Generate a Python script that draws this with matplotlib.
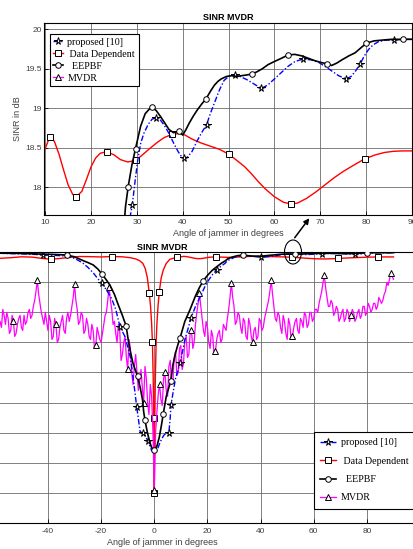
import matplotlib
matplotlib.use("Agg")
import matplotlib.pyplot as plt
import numpy as np
from matplotlib.lines import Line2D
from matplotlib.patches import Ellipse, FancyArrowPatch

# ---------------- datos ----------------
# proposed [10]  (parte baja -90..27 y parte alta 27..90)
prop_x_lo = [-90, -80, -70, -60, -50, -45, -41.8, -38, -34, -30, -27, -25, -23, -21.5, -19.8, -18, -16,
             -14.5, -12.9, -11, -10, -9, -8.5, -7.5, -6.6, -5.3, -4.4, -3.5, -2.3, -1, 0, 1, 2.3, 3.5,
             4.6, 5.5, 6, 6.3, 7, 8, 9.7, 11.5, 13.8, 15.5, 17.4, 19, 20.5, 22, 23.5, 25, 26.6]
prop_y_lo = [19.85, 19.9, 19.8, 19.7, 19.5, 19.3, 19.1, 19.0, 18.8, 18.0, 16.5, 15.0, 13.2, 11.5, 9.7, 7.5,
             4.5, 1.0, -4.8, -8.1, -11.5, -15, -18.1, -25, -31.5, -39.8, -40, -41, -42.9, -46, -46.5,
             -46, -43, -41, -40, -40, -35, -30.7, -27, -22, -17, -9.2, -2, 2, 5.4, 8.5, 10.8, 12.7,
             14.1, 15.3, 16.3]
prop_x_hi = [27.5, 28.5, 29, 29.6, 30.2, 30.8, 31.5, 32.5, 33.3, 34.1, 35, 36, 37, 38, 39, 39.7, 40.3,
             41, 42, 43, 44, 45.2, 46, 47, 48, 49, 50.2, 51.5, 52.5, 54, 55.7, 57.1, 58.5, 60, 61.5,
             63, 64.5, 66.2, 68, 69.6, 71, 72.5, 74, 75.6, 76.7, 77.7, 78.7, 79.6, 80.5, 81.5, 82.7,
             84.3, 86, 88, 90]
prop_y_hi = [17.2, 17.62, 17.78, 18.08, 18.35, 18.55, 18.68, 18.8, 18.86, 18.88, 18.86, 18.78, 18.68,
             18.56, 18.45, 18.39, 18.37, 18.38, 18.45, 18.57, 18.68, 18.79, 18.93, 19.08, 19.23, 19.35,
             19.41, 19.42, 19.40, 19.36, 19.30, 19.25, 19.29, 19.37, 19.45, 19.53, 19.59, 19.62, 19.61,
             19.58, 19.53, 19.47, 19.41, 19.37, 19.40, 19.47, 19.56, 19.66, 19.74, 19.80, 19.84, 19.86,
             19.86, 19.87, 19.87]

# Data Dependent
dd_x_lo = [-90, -86, -82, -78, -74, -70, -66, -62, -58, -54, -50, -46, -42, -39, -36, -32, -28, -24, -20,
           -15.8, -12, -9, -7, -5.5, -4.3, -3.4, -2.6, -1.9, -1.4, -1, -0.7, -0.4, -0.2, 0, 0.2, 0.4,
           0.7, 1, 1.4, 1.9, 2.6, 3.4, 4.5, 5.9, 8.4]
dd_y_lo = [18.4, 18.2, 18.0, 18.15, 18.45, 18.6, 18.45, 18.15, 18.0, 18.2, 18.5, 18.4, 17.95, 17.7, 17.9,
           18.3, 18.6, 18.55, 18.45, 18.6, 18.5, 18.2, 17.8, 17.2, 16.3, 14.6, 11.5, 6.5, 2.0, -3.7,
           -9.8, -22, -35, -60, -35, -22, -9.8, -3.7, 2.0, 6.9, 11.5, 14.1, 16.3, 17.7, 18.3]
dd_x_hi = [10, 11, 12, 13, 14, 15, 16, 16.8, 18, 19, 20, 21, 22, 23.4, 25, 26.4, 28, 29.7, 31, 32.8, 34.5,
           36, 37.7, 39.3, 40.5, 42, 44, 46, 48, 50, 52, 53.5, 55, 56.5, 58, 60, 62, 63.6, 65, 67, 69,
           71, 73, 75, 77, 79.7, 82, 84, 86, 88, 90]
dd_y_hi = [18.49, 18.64, 18.58, 18.42, 18.22, 18.03, 17.91, 17.88, 17.95, 18.1, 18.26, 18.37, 18.43,
           18.45, 18.41, 18.35, 18.32, 18.34, 18.4, 18.49, 18.57, 18.63, 18.67, 18.68, 18.66, 18.61,
           18.56, 18.52, 18.48, 18.42, 18.33, 18.26, 18.17, 18.07, 17.98, 17.88, 17.81, 17.79, 17.8,
           17.86, 17.94, 18.03, 18.12, 18.2, 18.27, 18.36, 18.41, 18.44, 18.455, 18.46, 18.46]

# EEPBF
ee_x_lo = [-90, -80, -70, -60, -50, -42, -38, -33, -30, -28.5, -26.7, -25, -23, -21.3, -19.6, -18.2,
           -16.7, -15, -13.5, -12, -10.6, -9.8, -9, -8, -7, -6.3, -5.3, -4.4, -4, -3.5, -2.7, -1.9,
           -1, 0, 1, 1.9, 2.7, 3.4, 4.5, 5.3, 6.2, 7, 8, 8.8, 9.7, 11.5, 13.4, 15.5, 17, 18.4, 20,
           21.8, 23.5, 25.3]
ee_y_lo = [19.85, 19.9, 19.85, 19.75, 19.6, 19.4, 19.3, 19.1, 18.5, 17.9, 17.2, 16.6, 15.8, 14.5, 12.7,
           11.0, 9.1, 6.0, 2.4, -1.0, -4.5, -9.2, -13, -17, -19.5, -21.2, -25, -29.2, -33, -35.9,
           -39.5, -42.6, -45, -45.9, -44.5, -41.5, -37.5, -33.7, -28, -25.5, -22.9, -17.5, -13.5,
           -11, -8.5, -3, 0.8, 5.5, 8.3, 10.5, 12.3, 14.0, 15.2, 16.4]
ee_x_hi = [26.8, 27.5, 28.1, 28.9, 29.7, 30.8, 31.8, 33.2, 34.2, 35.2, 36.1, 37, 38, 39.2, 40, 40.7,
           41.4, 42.3, 43.2, 44.1, 45.1, 46, 46.9, 47.7, 48.4, 49.5, 50.6, 51.7, 52.8, 54, 55, 56.2,
           57.4, 58.6, 60, 61.5, 62.9, 64.4, 66, 67.4, 68.8, 70, 71.4, 72.5, 73.6, 74.7, 76.2, 77.6,
           78.8, 80, 81.7, 83.5, 85.5, 88, 90]
ee_y_hi = [17.2, 17.75, 18.01, 18.28, 18.49, 18.77, 18.93, 19.02, 18.97, 18.89, 18.81, 18.73, 18.69,
           18.71, 18.66, 18.73, 18.81, 18.9, 18.98, 19.05, 19.12, 19.21, 19.29, 19.34, 19.37, 19.40,
           19.41, 19.40, 19.41, 19.42, 19.43, 19.46, 19.50, 19.55, 19.59, 19.63, 19.67, 19.68, 19.66,
           19.63, 19.60, 19.58, 19.56, 19.54, 19.57, 19.61, 19.66, 19.70, 19.76, 19.82, 19.85, 19.86,
           19.87, 19.87, 19.87]

# MVDR: valores en grados enteros (-90..90) y en medios grados (-89.5..89.5)
mv_y_int = [-2, 1, -3, 0, -4, -1, -5, -2, -4, 0, -3, -1, -4, -2, -5, 0, -3, -1, -4, 1, -2, -4, 0, -3,
            -1, -5, -2, 0, -3, 1, -2, 0,
            -3, 1, -4, -2, -6, -3, -7, -2, -5, -1, -3, 1, -1, 4, 10.8, 3, -2, 0, -6, -3, -8, -4, -9,
            -3, -6, -2, -3, 2,
            9.3, 1, -3, -1, -6, -4, -9, -6, -11, -7, -10, -4, 0, 8.5, 1, -3, -10, -6, -14, -8, -19,
            -12, -24, -14, -26, -19, -30, -22, -34, -28,
            -59,
            -33, -24, -31, -20, -28, -16, -23, -13, -20, -11, -17, -8, -14, -6, -10, 0, 6.3, -2, -8,
            -5, -12, -8, -13, -7, -10, -4, -6, 1, 9.9, 2,
            -3, -1, -7, -3, -9, -4, -10, -5, -8, -3, -5, 0, 4, 10.8, 2, -3, -1, -7, -3, -9, -4, -8,
            -3, -6, -2, -5, -1, -4, 0, -2,
            1, 3, 7, 12.4, 5, 2, 3, 0, 1, -2, 1, -2, 0, -1, 0, -2, 1, -1, 2, 0, 2, 1, 3, 2, 4, 4, 7,
            9, 13, 11]
mv_y_half = [-4, -1, -5, -2, 0, -3, 1, -5, -1, -2, 0, -5, 0, -1, -3, -4, 0, -5, -2, -3, 0, -1, -5, 1,
             -4, 0, -4, -2, -1, -4, 1, -5,
             -5, -1, 0, -7, -1, -8, -4, -1, -6, -4, 0, -2, 2, 7, 6, 0, -4, -3, -1, -9, -2, -10, -5,
             -1, -7, 0, -1, 5,
             4, -4, 0, -7, -2, -8, -4, -12, -5, -9, -7, -1, 4, 4, -4, -7, -4, -16, -10, -15, -9, -20,
             -18, -20, -23, -25, -18, -30, -24, -40,
             -40,
             -27, -29, -22, -26, -18, -24, -15, -21, -12, -19, -9, -15, -7, -12, -4, 3, 2, -6, -3,
             -10, -6, -14, -9, -6, -9, -5, -2, 5, 5, -4,
             0, -5, -2, -8, -2, -8, -6, -9, -2, -6, -2, 2, 7, 6, -2, 0, -5, -1, -7, -2, -9, -5, -2,
             -7, -3, 0, -5, 0, -3, 1,
             0, 5, 10, 8, 2, 4, -1, 2, -3, 0, -3, 1, -3, 1, -3, 0, -2, 2, -1, 3, 0, 3, 1, 5, 3, 6, 10,
             11, 12]

# posiciones de los marcadores (grados)
prop_mk_top = [29, 34.1, 40.3, 45.2, 51.5, 57.1, 66.2, 75.6, 78.7, 86]
dd_mk_top = [11, 16.8, 23.4, 29.7, 37.7, 50, 63.6, 79.7]
ee_mk_top = [28.1, 29.7, 33.2, 39.2, 45.1, 55, 62.9, 71.4, 80, 88]
prop_mk_bot = [-41.8, -19.8, -12.9, -6.6, -4.4, -2.3, 5.5, 6.3, 9.7, 13.8, 23.5, 40.3, 63, 75.6]
dd_mk_bot = [-39, -15.8, -1.9, -0.7, -0.2, 0, 1.9, 8.4, 23.4, 52, 69, 84]
ee_mk_bot = [-33, -19.6, -10.6, -6.3, -3.5, 0, 3.4, 6.2, 9.7, 18.4, 33.2, 52.8, 80]
mv_mk_bot = [-53, -44, -37, -30, -22, -17, -10, -4, 0, 2, 4, 14, 17, 23, 29, 37, 44, 52, 64, 74, 89]

labels = ["proposed [10]", " Data Dependent", "  EEPBF", "MVDR"]
top_xticks = [10, 20, 30, 40, 50, 60, 70, 80, 90]
top_yticks = [18, 18.5, 19, 19.5, 20]
top_yticklabels = ["18", "18.5", "19", "19.5", "20"]
bot_xticks = [-100, -80, -60, -40, -20, 0, 20, 40, 60, 80, 100]
bot_xticklabels = ["-100", "-80", "-60", "-40", "-20", "0", "20", "40", "60", "80", "100"]
bot_yticks = [-70, -60, -50, -40, -30, -20, -10, 0, 10, 20]

# series completas
prop_x = np.array(prop_x_lo + prop_x_hi)
prop_y = np.array(prop_y_lo + prop_y_hi)
dd_x = np.array(dd_x_lo + dd_x_hi)
dd_y = np.array(dd_y_lo + dd_y_hi)
ee_x = np.array(ee_x_lo + ee_x_hi)
ee_y = np.array(ee_y_lo + ee_y_hi)
mv_x = np.arange(-90, 90.25, 0.5)
mv_y = np.empty(len(mv_x))
mv_y[0::2] = mv_y_int
mv_y[1::2] = mv_y_half


def idx(xs, marks):
    # indice del punto mas cercano a cada marcador
    return [int(np.abs(xs - m).argmin()) for m in marks]


sans = "Liberation Sans"
serif = "Liberation Serif"
W, H = 414.0, 549.0


def box(l, t, r, b):
    # caja en pixeles -> fraccion de figura
    return [l / W, 1 - b / H, (r - l) / W, (b - t) / H]


fig = plt.figure(figsize=(4.14, 5.49), dpi=100)
ax1 = fig.add_axes(box(44.3, 22.7, 412, 215))
ax2 = fig.add_axes(box(-111.5, 252.3, 436, 522.7))

mk = dict(mfc="white", mec="k", mew=0.7)
for ax, top in ((ax1, True), (ax2, False)):
    ax.plot(dd_x, dd_y, color="red", lw=1.0, marker="s", ms=4,
            markevery=idx(dd_x, dd_mk_top if top else dd_mk_bot), zorder=2, **mk)
    ax.plot(mv_x, mv_y, color="#ff00ff", lw=0.9, marker="^", ms=4,
            markevery=idx(mv_x, mv_mk_bot), zorder=3, **mk)
    ax.plot(prop_x, prop_y, color="blue", ls="-.", dashes=(4, 1.5, 1, 1.5), lw=1.0, marker="*",
            ms=5.5, markevery=idx(prop_x, prop_mk_top if top else prop_mk_bot), zorder=4, **mk)
    ax.plot(ee_x, ee_y, color="black", lw=1.2, marker="o", ms=4,
            markevery=idx(ee_x, ee_mk_top if top else ee_mk_bot), zorder=4, **mk)
    ax.grid(True, color="0.42", lw=0.6)
    ax.set_axisbelow(True)
    ax.tick_params(direction="in", labelsize=6, labelcolor="0.25", length=3, width=0.6)
    for s in ax.spines.values():
        s.set_linewidth(0.8)
    ax.set_title("SINR MVDR", fontsize=6.5, fontweight="bold", family=sans, pad=2)
    ax.set_xlabel("Angle of jammer in degrees", fontsize=6.5, family=sans, color="0.25", labelpad=2)

# grafico de arriba (zoom)
ax1.set_xlim(9.8, 90)
ax1.set_ylim(17.65, 20.08)
ax1.set_xticks(top_xticks)
ax1.set_yticks(top_yticks)
ax1.set_yticklabels(top_yticklabels, family=sans)
ax1.set_xticklabels([str(v) for v in top_xticks], family=sans)
ax1.tick_params(axis="y", pad=1.5)
ax1.tick_params(axis="x", pad=3)
ax1.set_ylabel("SINR in dB", fontsize=6.5, family=sans, color="0.25", labelpad=3)

# grafico de abajo
ax2.set_xlim(-100, 106)
ax2.set_ylim(-70, 20)
ax2.set_xticks(bot_xticks)
ax2.set_xticklabels(bot_xticklabels, family=sans)
ax2.set_yticks(bot_yticks)
ax2.tick_params(axis="x", pad=4)

# leyendas
handles = [
    Line2D([], [], color="blue", ls="-.", dashes=(4, 1.5, 1, 1.5), lw=1.0, marker="*", ms=5.5, **mk),
    Line2D([], [], color="red", lw=1.0, marker="s", ms=4, **mk),
    Line2D([], [], color="black", lw=1.2, marker="o", ms=4, **mk),
    Line2D([], [], color="#ff00ff", lw=0.9, marker="^", ms=4, **mk),
]
leg1 = ax1.legend(handles, labels, loc="upper left", bbox_to_anchor=(0.0155, 0.941), borderaxespad=0,
                  prop={"family": serif, "size": 7.2}, handlelength=1.0, handletextpad=0.4,
                  labelspacing=0.3, borderpad=0.35, fancybox=False, framealpha=1, edgecolor="k")
leg1.get_frame().set_linewidth(0.8)
leg2 = ax2.legend(handles, labels, loc="upper left", bbox_to_anchor=(314 / W, 1 - 432 / H),
                  bbox_transform=fig.transFigure, borderaxespad=0,
                  prop={"family": serif, "size": 7.2}, handlelength=1.6, handletextpad=0.5,
                  labelspacing=0.95, borderpad=0.6, fancybox=False, framealpha=1, edgecolor="k")
leg2.get_frame().set_linewidth(0.8)

# circulo y flecha dibujados a mano
fig.add_artist(Ellipse((293 / W, 1 - 252 / H), 17 / W, 24 / H, transform=fig.transFigure,
                       fill=False, ec="k", lw=0.8))
fig.add_artist(FancyArrowPatch((293 / W, 1 - 240 / H), (311 / W, 1 - 216 / H), transform=fig.transFigure,
                               arrowstyle="-|>", mutation_scale=8, lw=1.1, color="k"))

fig.savefig("out.png", dpi=100)
